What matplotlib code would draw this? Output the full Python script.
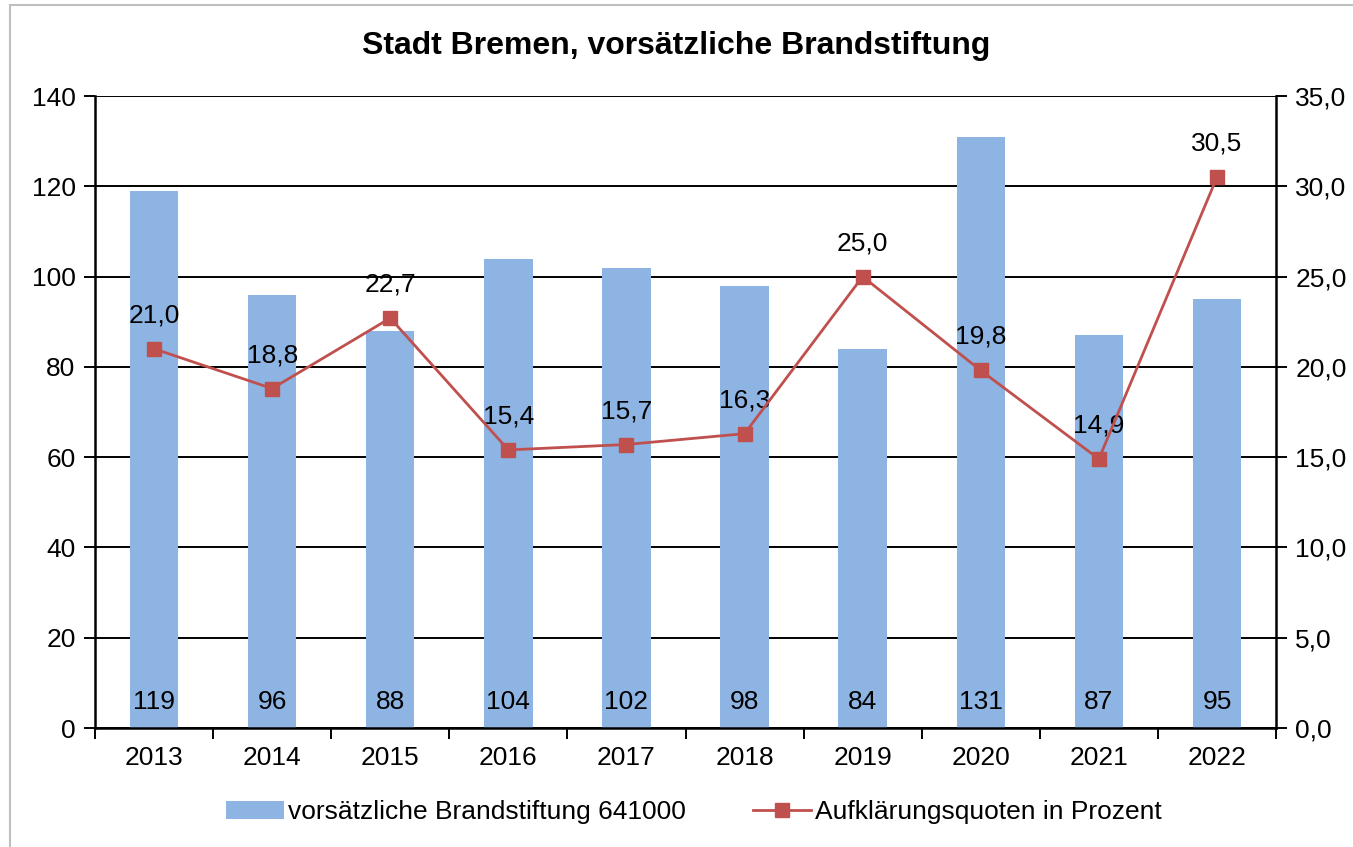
import matplotlib
matplotlib.use("Agg")
import matplotlib.pyplot as plt
from matplotlib.patches import Rectangle
import numpy as np

years = ["2013", "2014", "2015", "2016", "2017", "2018", "2019", "2020", "2021", "2022"]
cases = [119, 96, 88, 104, 102, 98, 84, 131, 87, 95]
quote = [21.0, 18.8, 22.7, 15.4, 15.7, 16.3, 25.0, 19.8, 14.9, 30.5]

plt.rcParams['font.family'] = ['Liberation Sans', 'DejaVu Sans']
FS = 19

fig = plt.figure(figsize=(13.53, 8.47), dpi=100)
fig.patches.append(Rectangle((10/1353, -0.05), 1.2, 1 - 5/847 + 0.05, transform=fig.transFigure,
                             fill=False, edgecolor='#BFBFBF', linewidth=1.5))

L, R, T, B = 95, 1276, 96, 728
ax = fig.add_axes([L/1353, 1 - B/847, (R-L)/1353, (B-T)/847])
x = np.arange(len(years))
bars = ax.bar(x, cases, width=0.41, color='#8EB4E3', zorder=2,
              label='vorsätzliche Brandstiftung 641000')
ax.set_xlim(-0.5, len(years)-0.5)
ax.set_ylim(0, 140)
ax.set_yticks(np.arange(0, 141, 20))
ax.yaxis.grid(True, color='black', linewidth=1.4, zorder=0)
ax.set_axisbelow(True)
ax.set_xticks(x)
ax.set_xticklabels(years)
ax.set_xticks(np.arange(-0.5, len(years), 1), minor=True)
ax.tick_params(axis='x', which='major', length=0, pad=13, labelsize=FS)
ax.tick_params(axis='x', which='minor', length=8, width=1.4, direction='out')
ax.tick_params(axis='y', length=8, width=1.4, direction='out', labelsize=FS, pad=6)
for s in ['left', 'bottom']:
    ax.spines[s].set_linewidth(1.8)
for s in ['top', 'right']:
    ax.spines[s].set_visible(False)
for xi, v in zip(x, cases):
    ax.text(xi, 5.8, str(v), ha='center', va='center', fontsize=FS, zorder=5)

ax2 = ax.twinx()
ax2.set_ylim(0, 35)
ax2.set_yticks(np.arange(0, 35.1, 5))
ax2.set_yticklabels([f"{v:.1f}".replace('.', ',') for v in np.arange(0, 35.1, 5)])
ax2.tick_params(axis='y', length=8, width=1.4, direction='out', labelsize=FS, pad=6)
for s in ['left', 'top', 'bottom']:
    ax2.spines[s].set_visible(False)
ax2.spines['right'].set_linewidth(1.8)
line, = ax2.plot(x, quote, color='#C0504D', linewidth=2, marker='s', markersize=10,
                 markerfacecolor='#C0504D', markeredgecolor='#C0504D', zorder=4,
                 label='Aufklärungsquoten in Prozent')
for xi, v in zip(x, quote):
    ax2.annotate(f"{v:.1f}".replace('.', ','), (xi, v), xytext=(0, 36), textcoords='offset pixels',
                 ha='center', va='center_baseline', fontsize=FS)

fig.text(0.5, 1 - 46/847, 'Stadt Bremen, vorsätzliche Brandstiftung', ha='center', va='center',
         fontsize=23, fontweight='bold')

fig.legend([bars, line], ['vorsätzliche Brandstiftung 641000', 'Aufklärungsquoten in Prozent'],
           loc='center', bbox_to_anchor=(694/1353, 1 - 812/847), ncol=2, frameon=False,
           fontsize=FS, handlelength=2.2, columnspacing=2.55, handletextpad=0.15)

fig.savefig('out.png', dpi=100)
